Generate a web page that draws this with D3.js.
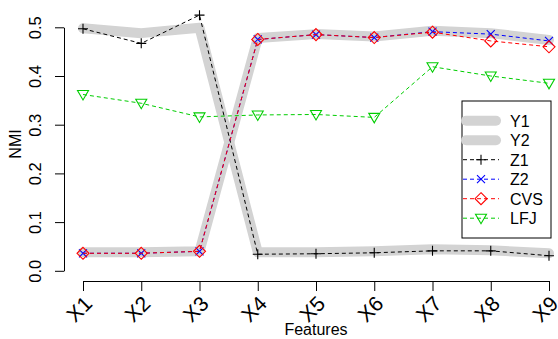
<!DOCTYPE html>
<html><head><meta charset="utf-8">
<script src="https://cdn.jsdelivr.net/npm/d3@7"></script>
<style>body{margin:0;background:#fff}svg{display:block;font-family:"Liberation Sans",Arial,sans-serif}</style>
</head><body><svg id="c" width="558" height="339"></svg>
<script>
const categories = ["X1","X2","X3","X4","X5","X6","X7","X8","X9"];
const Y1 = [0.498,0.488,0.499,0.038,0.038,0.040,0.044,0.042,0.036];
const Y2 = [0.038,0.038,0.040,0.478,0.486,0.481,0.493,0.488,0.474];
const Z1 = [0.497,0.467,0.525,0.034,0.035,0.037,0.041,0.041,0.031];
const Z2 = [0.036,0.036,0.040,0.475,0.485,0.479,0.491,0.486,0.472];
const CVS = [0.036,0.036,0.040,0.475,0.485,0.479,0.490,0.472,0.460];
const LFJ = [0.362,0.344,0.316,0.320,0.321,0.315,0.419,0.400,0.385];
const yTicks = [0,0.1,0.2,0.3,0.4,0.5];

const svg = d3.select("#c");
const x = d3.scalePoint().domain(categories).range([83,549]);
const y = d3.scaleLinear().domain([0,0.5]).range([270.8,27.3]);

const series = [
  {name:"Y1", v:Y1, color:"#D3D3D3", w:10, dash:null, pch:null},
  {name:"Y2", v:Y2, color:"#D3D3D3", w:10, dash:null, pch:null},
  {name:"Z1", v:Z1, color:"#000000", w:1, dash:"4,3", pch:"plus"},
  {name:"Z2", v:Z2, color:"#0000FF", w:1, dash:"4,3", pch:"cross"},
  {name:"CVS", v:CVS, color:"#FF0000", w:1, dash:"4,3", pch:"diamond"},
  {name:"LFJ", v:LFJ, color:"#00CD00", w:1, dash:"4,3", pch:"tri"}
];

function marker(g, type, cx, cy, color){
  let d;
  if(type==="plus") d=`M${cx-5},${cy}H${cx+5}M${cx},${cy-5}V${cy+5}`;
  else if(type==="cross") d=`M${cx-4},${cy-4}L${cx+4},${cy+4}M${cx-4},${cy+4}L${cx+4},${cy-4}`;
  else if(type==="diamond") d=`M${cx},${cy-6}L${cx+6},${cy}L${cx},${cy+6}L${cx-6},${cy}Z`;
  else if(type==="tri") d=`M${cx-5.5},${cy-4}L${cx+5.5},${cy-4}L${cx},${cy+5.5}Z`;
  g.append("path").attr("d",d).attr("fill","none").attr("stroke",color).attr("stroke-width",1.1);
}

const line = d3.line().x((d,i)=>x(categories[i])).y(d=>y(d));
series.forEach(s=>{
  svg.append("path").datum(s.v).attr("d",line).attr("fill","none")
    .attr("stroke",s.color).attr("stroke-width",s.w)
    .attr("stroke-linejoin","round").attr("stroke-linecap",s.dash?"butt":"round")
    .attr("stroke-dasharray",s.dash);
  if(s.pch) s.v.forEach((v,i)=>marker(svg,s.pch,x(categories[i]),y(v),s.color));
});

// axes
const ya = svg.append("g").attr("transform","translate(64,0)")
  .call(d3.axisLeft(y).tickValues(yTicks).tickFormat(d3.format(".1f")).tickSize(9).tickSizeOuter(0));
ya.select(".domain").attr("stroke","#000");
ya.selectAll(".tick text").attr("font-size",16.5).attr("fill","#000")
  .attr("text-anchor","middle").attr("transform","rotate(-90)")
  .attr("x",0).attr("y",-23).attr("dy",0);

const xa = svg.append("g").attr("transform","translate(0,281)")
  .call(d3.axisBottom(x).tickSize(10).tickSizeOuter(0));
xa.select(".domain").attr("stroke","#000");
xa.selectAll(".tick text").attr("font-size",21).attr("fill","#000")
  .attr("text-anchor","end").attr("dy",0).attr("y",0).attr("x",0)
  .attr("transform","translate(10,24) rotate(-45)");

svg.append("text").attr("x",316).attr("y",335).attr("text-anchor","middle")
  .attr("font-size",16).text("Features");
svg.append("text").attr("transform","translate(21,144) rotate(-90)").attr("text-anchor","middle")
  .attr("font-size",16).text("NMI");

// legend
const lg = svg.append("g");
lg.append("rect").attr("x",462).attr("y",101).attr("width",89).attr("height",137)
  .attr("fill","#fff").attr("stroke","#000").attr("stroke-width",1);
series.forEach((s,i)=>{
  const cy = 120.7 + i*19.5;
  lg.append("line").attr("x1",s.dash?463:466).attr("x2",s.dash?499:496).attr("y1",cy).attr("y2",cy)
    .attr("stroke",s.color).attr("stroke-width",s.w)
    .attr("stroke-linecap",s.dash?"butt":"round").attr("stroke-dasharray",s.dash?"4,3":null);
  if(s.pch) marker(lg,s.pch,481,cy,s.color);
  lg.append("text").attr("x",510).attr("y",cy+6).attr("font-size",16).text(s.name);
});
</script></body></html>
